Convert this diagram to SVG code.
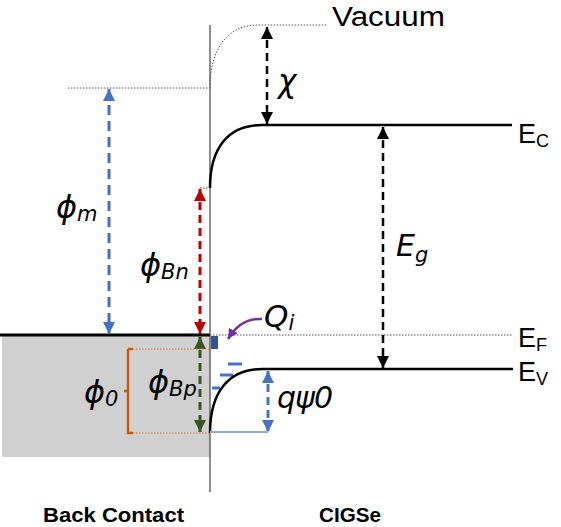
<svg xmlns="http://www.w3.org/2000/svg" width="561" height="527" viewBox="0 0 561 527">
<style>
.lbl{font-family:"DejaVu Sans","Liberation Sans",sans-serif;font-style:italic;fill:#000}
.lvl{font-family:"Liberation Sans",Arial,sans-serif;fill:#000}
.bold{font-family:"Liberation Sans",Arial,sans-serif;font-weight:bold;fill:#000}
.band{fill:none;stroke:#000;stroke-width:2.5}
.dot{fill:none;stroke:#555;stroke-width:1;stroke-dasharray:1.5,1.5}
</style>
<defs>
<marker id="ak" markerUnits="userSpaceOnUse" markerWidth="12" markerHeight="12" refX="12" refY="6" orient="auto-start-reverse"><path d="M0,0L12,6L0,12z" fill="#000"/></marker>
<marker id="ab" markerUnits="userSpaceOnUse" markerWidth="12" markerHeight="12" refX="12" refY="6" orient="auto-start-reverse"><path d="M0,0L12,6L0,12z" fill="#4472C4"/></marker>
<marker id="ar" markerUnits="userSpaceOnUse" markerWidth="12" markerHeight="12" refX="12" refY="6" orient="auto-start-reverse"><path d="M0,0L12,6L0,12z" fill="#C00000"/></marker>
<marker id="ag" markerUnits="userSpaceOnUse" markerWidth="12" markerHeight="12" refX="12" refY="6" orient="auto-start-reverse"><path d="M0,0L12,6L0,12z" fill="#375623"/></marker>
<marker id="ap" markerUnits="userSpaceOnUse" markerWidth="10" markerHeight="10" refX="10" refY="5" orient="auto"><path d="M0,0L10,5L0,10z" fill="#7030A0"/></marker>
</defs>

<g id="back-contact">
<rect x="2" y="336" width="208" height="121" fill="#d0d0d0"/>
<line x1="0" y1="335" x2="210" y2="335" stroke="#000" stroke-width="3"/>
<line x1="68" y1="88" x2="210" y2="88" class="dot"/>
</g>

<g id="interface">
<line x1="210" y1="25" x2="210" y2="492" stroke="#444" stroke-width="1.2"/>
<rect x="211" y="336" width="7" height="13" fill="#2F5597"/>
<g stroke="#4472C4" stroke-width="3">
<line x1="228" y1="364" x2="242" y2="364"/>
<line x1="220" y1="375" x2="233" y2="375"/>
<line x1="212" y1="388" x2="220" y2="388"/>
</g>
</g>

<g id="vacuum">
<path d="M210,88 C210,48 228,25 258,25 L327,25" class="dot"/>
<text x="332" y="26" class="lvl" font-size="27" textLength="113" lengthAdjust="spacingAndGlyphs">Vacuum</text>
</g>

<g id="ec">
<path d="M210,188 C210,148 228,125 262,125 L512,125" class="band"/>
<text x="518" y="143" class="lvl" font-size="27">E<tspan font-size="18" dy="4">C</tspan></text>
</g>

<g id="ef">
<line x1="210" y1="335" x2="513" y2="335" class="dot"/>
<text x="518" y="347" class="lvl" font-size="27">E<tspan font-size="18" dy="4">F</tspan></text>
</g>

<g id="ev">
<path d="M210,433 C210,393 228,369 262,369 L513,369" class="band"/>
<text x="518" y="381" class="lvl" font-size="27">E<tspan font-size="18" dy="4">V</tspan></text>
</g>

<g id="connectors">
<line x1="267" y1="27" x2="267" y2="124" stroke="#000" stroke-width="2.5" stroke-dasharray="8,5" marker-start="url(#ak)" marker-end="url(#ak)"/>
<line x1="383" y1="127" x2="383" y2="368" stroke="#000" stroke-width="2.5" stroke-dasharray="8,5" marker-start="url(#ak)" marker-end="url(#ak)"/>
<line x1="109" y1="89" x2="109" y2="334" stroke="#4472C4" stroke-width="3" stroke-dasharray="10,6" marker-start="url(#ab)" marker-end="url(#ab)"/>
<line x1="200" y1="189" x2="200" y2="334" stroke="#C00000" stroke-width="3" stroke-dasharray="8,5" marker-start="url(#ar)" marker-end="url(#ar)"/>
<line x1="200" y1="188" x2="210" y2="188" stroke="#C00000" stroke-width="1" stroke-dasharray="1.5,1.5"/>
<line x1="200" y1="337" x2="200" y2="432" stroke="#375623" stroke-width="3" stroke-dasharray="8,5" marker-start="url(#ag)" marker-end="url(#ag)"/>
<line x1="268" y1="371" x2="268" y2="432" stroke="#4472C4" stroke-width="3" stroke-dasharray="8,5" marker-start="url(#ab)" marker-end="url(#ab)"/>
<line x1="210" y1="432" x2="268" y2="432" stroke="#8FAADC" stroke-width="1.8"/>
<path d="M128,349 L133,349 M128,349 L128,433 L133,433 M128,391 L124,391" fill="none" stroke="#C55A11" stroke-width="2.5"/>
<line x1="133" y1="349" x2="210" y2="349" stroke="#E07030" stroke-width="1" stroke-dasharray="1.5,1.5"/>
<line x1="133" y1="433" x2="210" y2="433" stroke="#E07030" stroke-width="1" stroke-dasharray="1.5,1.5"/>
<path d="M262,319 C247,318 236,326 228,339" fill="none" stroke="#7030A0" stroke-width="2.5" marker-end="url(#ap)"/>
</g>

<g id="labels">
<text x="278" y="92" class="lbl" font-size="31">χ</text>
<text x="56" y="218" class="lbl" font-size="32">ϕ<tspan font-size="21" dy="3">m</tspan></text>
<text x="140" y="276" class="lbl" font-size="32">ϕ<tspan font-size="21" dy="3">Bn</tspan></text>
<text x="148" y="393" class="lbl" font-size="32">ϕ<tspan font-size="21" dy="3">Bp</tspan></text>
<text x="84" y="403" class="lbl" font-size="32">ϕ<tspan font-size="21" dy="3">0</tspan></text>
<text x="264" y="327" class="lbl" font-size="31">Q<tspan font-size="21" dy="3">i</tspan></text>
<text x="396" y="256" class="lbl" font-size="30">E<tspan font-size="21" dy="6">g</tspan></text>
<text x="277" y="408" class="lbl" font-size="30" textLength="56">qψ0</text>
<text x="43" y="522" class="bold" font-size="21" textLength="141" lengthAdjust="spacingAndGlyphs">Back Contact</text>
<text x="319" y="522" class="bold" font-size="21" textLength="62" lengthAdjust="spacingAndGlyphs">CIGSe</text>
</g>
</svg>
